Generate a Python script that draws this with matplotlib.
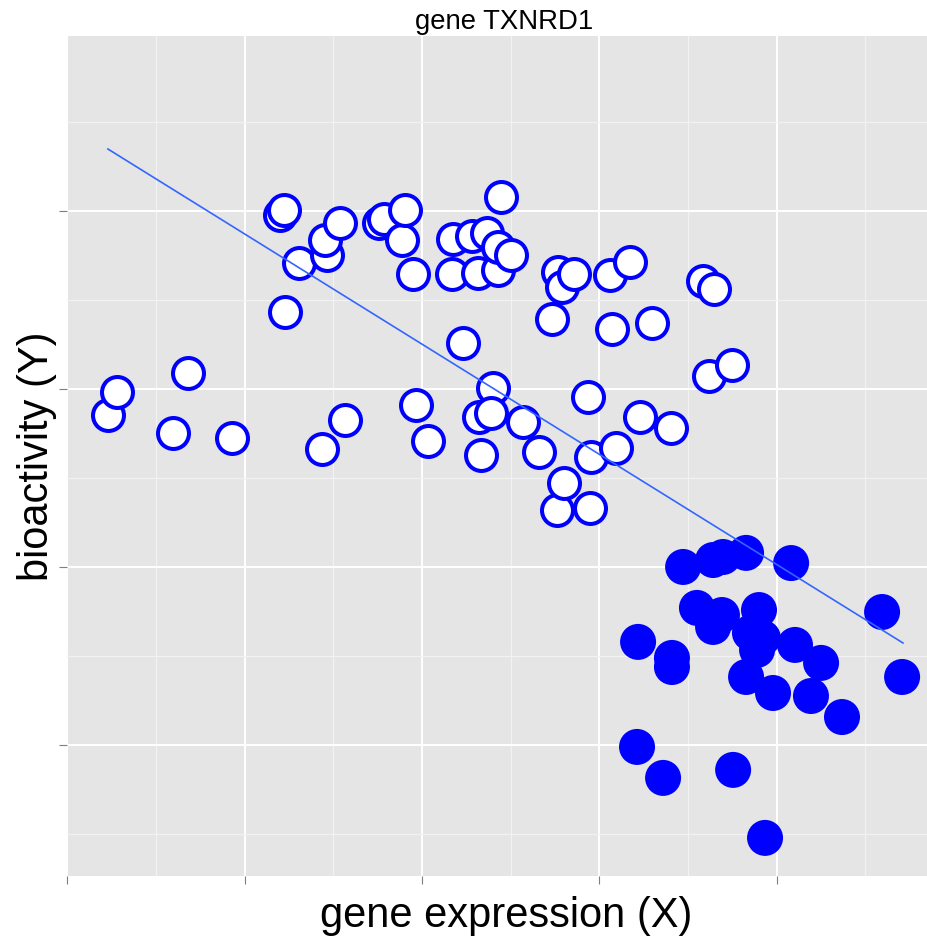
import matplotlib
matplotlib.use("Agg")
import matplotlib.pyplot as plt
import numpy as np

# open circles: cell lines with low gene expression group
open_x = [0.228, 0.279, 0.595, 0.680, 0.928, 1.199, 1.221, 1.227, 1.306, 1.435,
          1.464, 1.452, 1.537, 1.565, 1.757, 1.785, 1.887, 1.904, 1.949, 1.966,
          2.033, 2.174, 2.169, 2.231, 2.281, 2.315, 2.321, 2.332, 2.366, 2.400,
          2.389, 2.428, 2.428, 2.445, 2.501, 2.569, 2.659, 2.733, 2.767, 2.789,
          2.761, 2.800, 2.857, 2.936, 2.947, 2.953, 3.060, 3.071, 3.094, 3.173,
          3.229, 3.297, 3.404, 3.584, 3.646, 3.618, 3.748]
open_y = [2.854, 2.983, 2.753, 3.090, 2.725, 3.978, 4.006, 3.433, 3.708, 2.663,
          3.753, 3.837, 3.933, 2.826, 3.933, 3.955, 3.837, 4.006, 3.646, 2.910,
          2.708, 3.843, 3.646, 3.258, 3.860, 3.652, 2.843, 2.629, 3.876, 3.006,
          2.865, 3.669, 3.798, 4.079, 3.753, 2.815, 2.646, 3.393, 3.657, 3.573,
          2.320, 2.472, 3.646, 2.955, 2.331, 2.618, 3.640, 3.337, 2.669, 3.713,
          2.843, 3.371, 2.781, 3.607, 3.562, 3.073, 3.135]

# filled circles
fill_x = [3.472, 3.641, 3.697, 3.827, 4.081, 3.550, 3.691, 3.641, 3.900, 3.849,
          3.922, 3.889, 3.218, 3.409, 3.409, 4.103, 4.250, 3.827, 3.979, 4.193,
          4.368, 4.594, 4.707, 3.212, 3.359, 3.754, 3.934]
fill_y = [2.000, 2.039, 2.056, 2.079, 2.022, 1.770, 1.730, 1.663, 1.758, 1.629,
          1.601, 1.534, 1.579, 1.489, 1.438, 1.562, 1.461, 1.382, 1.292, 1.275,
          1.157, 1.747, 1.382, 0.989, 0.815, 0.860, 0.478]

# fitted trend line ends
fit_x = [0.228, 4.712]
fit_y = [4.348, 1.573]

fig = plt.figure(figsize=(9.28, 9.39), dpi=100)
ax = fig.add_axes([0.0727, 0.0671, 0.9273, 0.8946])
ax.set_facecolor('#E5E5E5')
for s in ax.spines.values():
    s.set_visible(False)

ax.set_xlim(0, 4.853)
ax.set_ylim(0.264, 4.983)
ax.set_xticks([0, 1, 2, 3, 4])
ax.set_yticks([1, 2, 3, 4])
ax.set_xticks(np.arange(0.5, 4.9, 1.0), minor=True)
ax.set_yticks(np.arange(0.5, 5.0, 1.0), minor=True)
ax.set_xticklabels([])
ax.set_yticklabels([])
ax.tick_params(which='major', length=6, width=0.8, color='#7F7F7F', direction='out')
ax.tick_params(which='minor', length=0)
ax.grid(which='major', color='white', linewidth=1.4)
ax.grid(which='minor', color='#F2F2F2', linewidth=0.9)
ax.set_axisbelow(True)

ax.scatter(open_x, open_y, s=497, facecolor='white', edgecolor='#0000FF',
           linewidth=2.9, zorder=3)
ax.scatter(fill_x, fill_y, s=672, facecolor='#0000FF', edgecolor='none', zorder=3)
ax.plot(fit_x, fit_y, color='#3366FF', linewidth=1.2, zorder=4)

fig.text(0.543, 0.977, 'gene TXNRD1', ha='center', va='center',
         fontsize=19.8, family='Liberation Sans')
fig.text(0.545, 0.025, 'gene expression (X)', ha='center', va='center',
         fontsize=30, family='Liberation Sans')
fig.text(0.040, 0.514, 'bioactivity (Y)', ha='center', va='center',
         rotation=90, fontsize=30, family='Liberation Sans')

plt.savefig('out.png', dpi=100)
